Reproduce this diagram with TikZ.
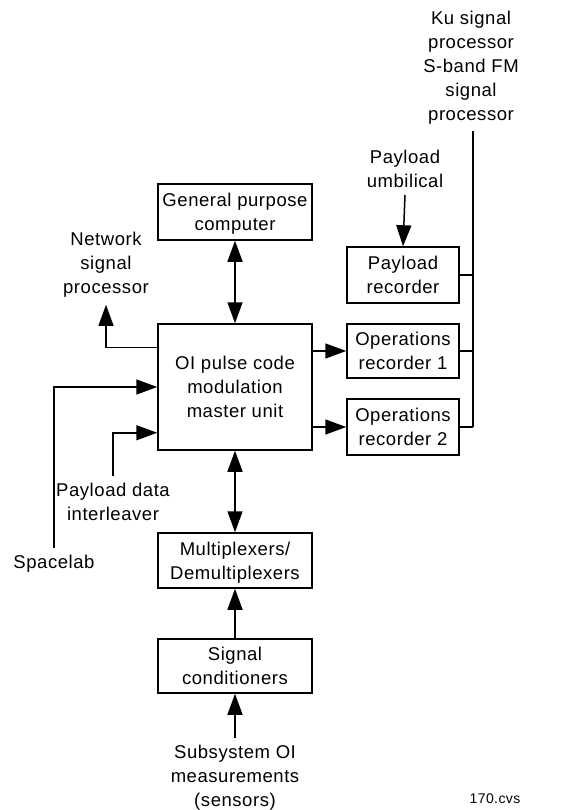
\documentclass[tikz,border=0pt]{standalone}
\usepackage{fontspec}
\setmainfont[LetterSpace=3]{Liberation Sans}
\usetikzlibrary{arrows.meta, math}

\begin{document}
\begin{tikzpicture}[x=1pt, y=-1pt,
  font=\fontsize{18.5}{24}\selectfont,
  box/.style={draw, line width=1.5pt, align=center, inner sep=0pt, text depth=-10pt},
  lbl/.style={align=center, inner sep=7pt},
  ln/.style={line width=1.5pt},
  arr/.style={ln, -{Triangle[length=21pt,width=15pt]}},
  darr/.style={ln, {Triangle[length=21pt,width=15pt]}-{Triangle[length=21pt,width=15pt]}}]
\tikzmath{
\bw = 154;
\sw = 112;
}
\useasboundingbox (0,0) rectangle (584,810);

\node[box, minimum width=\bw pt, minimum height=56pt] (gpc) at (235,212) {General purpose\\computer};
\node[box, minimum width=\bw pt, minimum height=126pt] (pcm) at (235,387) {OI pulse code\\modulation\\master unit};
\node[box, minimum width=\bw pt, minimum height=55pt] (mux) at (235,560.5) {Multiplexers/\\Demultiplexers};
\node[box, minimum width=\bw pt, minimum height=54pt] (sigc) at (235,666) {Signal\\conditioners};

\node[box, minimum width=\sw pt, minimum height=56pt] (payrec) at (403,275) {Payload\\recorder};
\node[box, minimum width=\sw pt, minimum height=54pt] (opsrec1) at (403,351) {Operations\\recorder 1};
\node[box, minimum width=\sw pt, minimum height=56pt] (opsrec2) at (403,427) {Operations\\recorder 2};

\node[lbl] (ku) at (471,68) {Ku signal\\processor\\S-band FM\\signal\\processor};
\node[lbl] (umb) at (405,169) {Payload\\umbilical};
\node[lbl] (nsp) at (106,265) {Network\\signal\\processor};
\node[lbl] (pdi) at (113,502) {Payload data\\interleaver};
\node[lbl] (spl) at (54,564) {Spacelab};
\node[lbl] (sub) at (235,778) {Subsystem OI\\measurements\\(sensors)};
\node[font=\fontsize{14}{16}\selectfont] (cvs) at (495,799) {170.cvs};

\coordinate (bustop) at (473,131);

\draw[darr] (gpc.south) -- (pcm.north);
\draw[darr] (pcm.south) -- (mux.north);
\draw[arr] (sigc.north) -- (mux.south);
\draw[arr] (sub.north) -- (sigc.south);

\draw[arr] (umb.south) -- (payrec.north);
\draw[arr] (pcm.east |- opsrec1.west) -- (opsrec1.west);
\draw[arr] (pcm.east |- opsrec2.west) -- (opsrec2.west);

\draw[arr] ([yshift=-24pt]pcm.north west) -| (nsp.south);
\draw[arr] (spl.north) |- (pcm.west);
\draw[arr] (pdi.north) |- ([yshift=18pt]pcm.south west);

\draw[ln] (bustop) -- (bustop |- opsrec2.east);
\draw[ln] (payrec.east) -- (payrec.east -| bustop);
\draw[ln] (opsrec1.east) -- (opsrec1.east -| bustop);
\draw[ln] (opsrec2.east) -- (opsrec2.east -| bustop);

\end{tikzpicture}
\end{document}
